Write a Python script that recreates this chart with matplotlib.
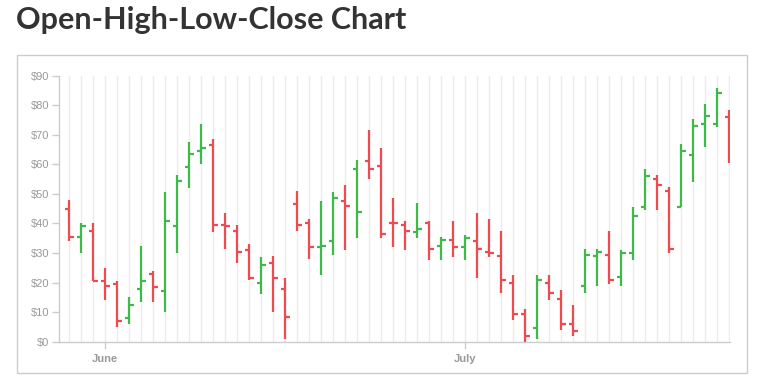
import numpy as np
import pandas as pd
import matplotlib
matplotlib.use('Agg')
import matplotlib.pyplot as plt
import matplotlib.dates as mdates
from matplotlib.patches import Rectangle

# daily OHLC values, 29 May .. 23 July
start = '2023-05-29'
opens = [45, 35.5, 37.5, 20.5, 19.5, 8, 18, 23, 17, 39, 59, 64.5, 66.5, 39.5,
         37.5, 31, 20, 26.5, 18, 46.5, 40, 32, 34, 47.5, 58.5, 61, 59.5, 40,
         39.5, 37, 40, 32.5, 34.5, 32, 34, 30.5, 29, 20, 9.5, 4.5, 20, 14.5,
         6, 19, 29, 29.5, 22, 30, 45.5, 55, 51, 45.5, 63, 73.5, 73.5, 76]
highs = [48, 40, 40, 25, 20.5, 15, 32.5, 24, 50.5, 56.5, 67.5, 73.5, 68.5, 43.5,
         39.5, 33, 28.5, 29, 21.5, 51, 41.5, 47.5, 50.5, 53, 61.5, 71.5, 65.5,
         48.5, 41, 47, 41, 35.5, 41, 36, 43.5, 41.5, 37.5, 22.5, 11, 22.5, 22.5,
         17.5, 12.5, 31.5, 31.5, 37.5, 31, 45.5, 58.5, 56.5, 52.5, 67, 75.5,
         80.5, 86, 78.5]
lows = [34, 30, 20.5, 14, 5, 6, 13.5, 13.5, 10, 30, 52, 60, 37, 31.5, 26.5, 21,
        16, 10, 1, 37.5, 28, 22.5, 29.5, 31, 35, 55, 35, 32, 31, 35, 27.5, 27.5,
        28.5, 27.5, 21.5, 28.5, 16.5, 7.5, 0, 1, 14, 4, 2, 16.5, 19, 19.5, 19,
        27.5, 44.5, 44.5, 30, 45.5, 54, 66, 72.5, 60.5]
closes = [35.5, 39, 20.5, 19, 7, 12.5, 20.5, 18.5, 41, 54.5, 63.5, 65.5, 39.5,
          39, 30.5, 21.5, 26, 21.5, 8.5, 39.5, 32, 32.5, 48.5, 46, 44, 58.5,
          36.5, 40, 37.5, 38, 31.5, 34.5, 32, 35, 31.5, 30, 21, 9.5, 2, 21, 16.5,
          6, 3.5, 29.5, 30.5, 21, 30, 42.5, 56, 53, 31.5, 64.5, 73, 76.5, 84, 70.5]
# bar colour as drawn (1 = green, 0 = red)
rising = [0, 1, 0, 0, 0, 1, 1, 0, 1, 1, 1, 1, 0, 0, 0, 0, 1, 0, 0, 0, 0, 1, 1,
          0, 1, 0, 0, 0, 0, 1, 0, 1, 0, 1, 0, 0, 0, 0, 0, 1, 0, 0, 0, 1, 1, 0,
          1, 1, 1, 0, 0, 1, 1, 1, 1, 0]
y_ticks = [0, 10, 20, 30, 40, 50, 60, 70, 80, 90]

GREEN = '#3dba47'
RED = '#ee4a50'
GRID = '#ececec'
AXIS = '#cccccc'
LABEL = '#999999'

days = pd.date_range(start, periods=len(opens), freq='D')
x = mdates.date2num(days)
colors = [GREEN if r else RED for r in rising]

W, H = 776, 388
fig = plt.figure(figsize=(W / 100, H / 100), dpi=100)
fig.patches.append(Rectangle((17 / W, (H - 373) / H), 730 / W, 318 / H,
                             transform=fig.transFigure, fill=False,
                             edgecolor=AXIS, lw=1))
fig.text(16 / W, (H - 20) / H, 'Open-High-Low-Close Chart', fontsize=22,
         family='Lato', weight='bold', color='#333333', va='center', ha='left')

ax = fig.add_axes([59.3 / W, (H - 341.7) / H, (730 - 59.3) / W, (341.7 - 75.7) / H])
ax.set_xlim(x[0] - 0.833, x[-1] + 0.06)
ax.set_ylim(0, 90)

for xi in x:
    ax.axvline(xi, color=GRID, lw=1, zorder=0)

tick = 0.375
ax.vlines(x, lows, highs, colors=colors, lw=1.6, zorder=3)
ax.hlines(opens, x - tick, x, colors=colors, lw=1.6, zorder=3)
ax.hlines(closes, x, x + tick, colors=colors, lw=1.6, zorder=3)

ax.set_yticks(y_ticks)
ax.set_yticklabels([f'${v}' for v in y_ticks])
ax.xaxis.set_major_locator(mdates.MonthLocator())
ax.xaxis.set_major_formatter(mdates.DateFormatter('%B'))

for side in ['top', 'right']:
    ax.spines[side].set_visible(False)
for side in ['left', 'bottom']:
    ax.spines[side].set_color(AXIS)
    ax.spines[side].set_linewidth(1)
ax.tick_params(axis='both', colors=AXIS, labelcolor=LABEL, length=5, width=1,
               labelsize=8)
ax.tick_params(axis='y', pad=2)
ax.tick_params(axis='x', pad=4)
for lab in ax.get_xticklabels() + ax.get_yticklabels():
    lab.set_family('Liberation Sans')
for lab in ax.get_xticklabels():
    lab.set_weight('bold')

fig.savefig('out.png', dpi=100)
